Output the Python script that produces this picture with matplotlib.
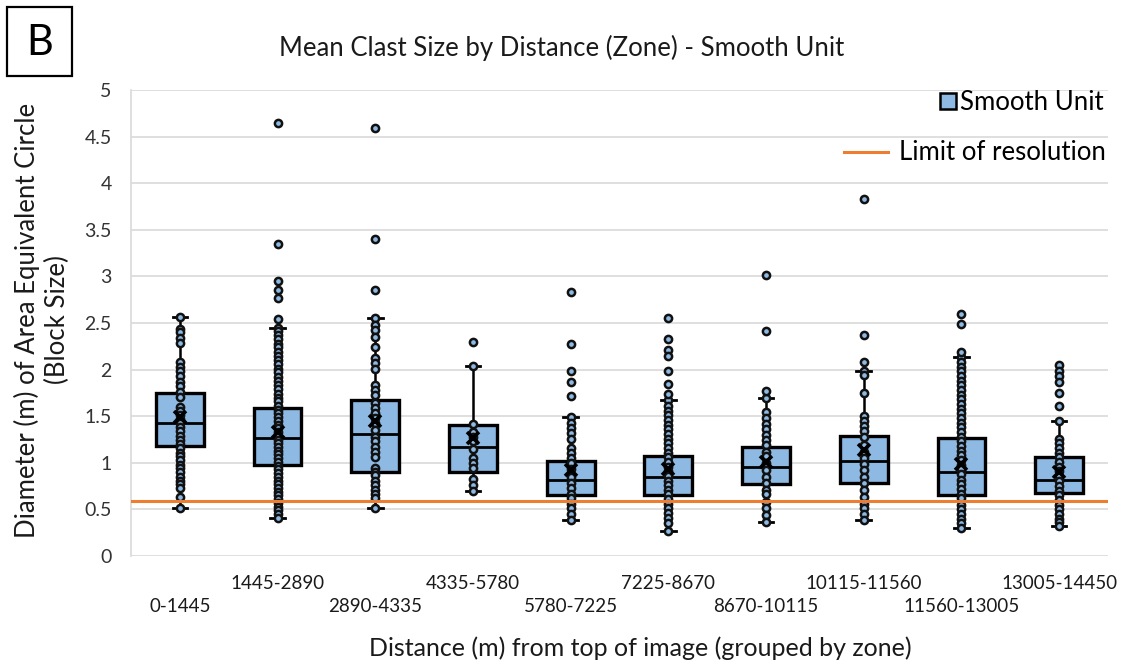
import matplotlib.pyplot as plt
import matplotlib.patches as mpatches
import matplotlib.transforms as mtransforms
from matplotlib.lines import Line2D
import numpy as np

# Zones (x categories)
zones = ['0-1445', '1445-2890', '2890-4335', '4335-5780', '5780-7225',
         '7225-8670', '8670-10115', '10115-11560', '11560-13005', '13005-14450']

# Box statistics
q1 = [1.18, 0.98, 0.90, 0.90, 0.65, 0.65, 0.77, 0.78, 0.65, 0.68]
med = [1.43, 1.27, 1.31, 1.17, 0.82, 0.85, 0.95, 1.02, 0.90, 0.82]
q3 = [1.75, 1.59, 1.67, 1.41, 1.02, 1.07, 1.17, 1.29, 1.27, 1.06]
whis_lo = [0.52, 0.41, 0.51, 0.70, 0.39, 0.27, 0.37, 0.39, 0.30, 0.32]
whis_hi = [2.56, 2.45, 2.55, 2.04, 1.49, 1.67, 1.70, 1.98, 2.13, 1.45]
means = [1.49, 1.33, 1.45, 1.27, 0.92, 0.93, 1.01, 1.14, 0.99, 0.90]

# Outliers per zone
outliers = [
    [],
    [4.65, 3.35, 2.95, 2.85, 2.77, 2.54],
    [4.59, 3.40, 2.85],
    [2.30],
    [2.83, 2.27, 1.99, 1.87, 1.72],
    [2.55, 2.33, 2.21, 2.15, 1.98, 1.85, 1.74],
    [3.01, 2.41, 1.77],
    [3.83, 2.37, 2.08],
    [2.60, 2.49, 2.19],
    [2.05, 1.99, 1.93, 1.87, 1.75, 1.61],
]

# Inner points per zone (within whiskers)
inner = [
    [2.56, 2.44, 2.40, 2.34, 2.29, 2.08, 2.03, 1.98, 1.93, 1.87, 1.82, 1.76, 1.71,
     1.60, 1.56, 1.51, 1.47, 1.43, 1.38, 1.34, 1.29, 1.25, 1.20, 1.16, 1.11,
     1.07, 1.03, 0.98, 0.94, 0.90, 0.85, 0.81, 0.77, 0.73, 0.63, 0.52],
    [2.45, 2.41, 2.37, 2.33, 2.28, 2.24, 2.19, 2.15, 2.10, 2.06, 2.01, 1.97,
     1.92, 1.88, 1.83, 1.79, 1.74, 1.70, 1.66, 1.61, 1.57, 1.53, 1.49, 1.45,
     1.41, 1.37, 1.33, 1.29, 1.25, 1.21, 1.17, 1.13, 1.09, 1.05, 1.01, 0.97,
     0.93, 0.89, 0.85, 0.81, 0.77, 0.73, 0.69, 0.65, 0.61, 0.57, 0.53, 0.49, 0.45, 0.41],
    [2.55, 2.48, 2.42, 2.35, 2.24, 2.12, 2.07, 2.01, 1.83, 1.78, 1.73, 1.64,
     1.59, 1.53, 1.48, 1.43, 1.35, 1.28, 1.23, 1.17, 1.12, 1.06, 0.94, 0.90,
     0.87, 0.80, 0.76, 0.71, 0.66, 0.62, 0.51],
    [2.04, 1.42, 1.33, 1.28, 1.23, 1.15, 1.05, 1.00, 0.94, 0.83, 0.76, 0.70],
    [1.49, 1.43, 1.37, 1.32, 1.26, 1.16, 1.11, 1.05, 1.00, 0.93, 0.85, 0.78,
     0.73, 0.67, 0.62, 0.56, 0.51, 0.45, 0.39],
    [1.67, 1.61, 1.56, 1.51, 1.46, 1.41, 1.36, 1.31, 1.26, 1.21, 1.16, 1.11,
     1.06, 1.01, 0.96, 0.91, 0.86, 0.81, 0.76, 0.71, 0.66, 0.61, 0.56, 0.51,
     0.46, 0.41, 0.35, 0.27],
    [1.70, 1.55, 1.48, 1.42, 1.36, 1.30, 1.24, 1.19, 1.12, 1.07, 1.00, 0.92,
     0.85, 0.78, 0.71, 0.66, 0.58, 0.51, 0.44, 0.37],
    [1.98, 1.94, 1.75, 1.50, 1.45, 1.40, 1.34, 1.28, 1.19, 1.12, 1.05, 0.99,
     0.92, 0.85, 0.78, 0.71, 0.63, 0.56, 0.51, 0.45, 0.39],
    [2.13, 2.08, 2.03, 1.98, 1.93, 1.88, 1.83, 1.78, 1.73, 1.68, 1.63, 1.58,
     1.53, 1.48, 1.43, 1.38, 1.33, 1.28, 1.23, 1.18, 1.13, 1.08, 1.03, 0.98,
     0.93, 0.88, 0.82, 0.77, 0.72, 0.67, 0.62, 0.55, 0.50, 0.45, 0.40, 0.35, 0.30],
    [1.45, 1.26, 1.21, 1.16, 1.11, 1.06, 1.01, 0.96, 0.91, 0.86, 0.80, 0.75,
     0.70, 0.65, 0.60, 0.55, 0.50, 0.45, 0.40, 0.36, 0.32],
]

limit_res = 0.59

box_color = '#8DB9E3'
line_orange = '#ED7D31'
grid_color = '#D9D9D9'
text_color = '#1A1A1A'
plt.rcParams['font.family'] = ['Lato', 'DejaVu Sans']

fig = plt.figure(figsize=(11.26, 6.65), dpi=100)
ax = fig.add_axes([131 / 1126, 1 - 556 / 665, 977 / 1126, 466 / 665])

pos = np.arange(1, len(zones) + 1)
stats = []
for i in range(len(zones)):
    stats.append(dict(q1=q1[i], med=med[i], q3=q3[i], whislo=whis_lo[i],
                      whishi=whis_hi[i], mean=means[i], fliers=[]))

ax.bxp(stats, positions=pos, widths=0.49, patch_artist=True, showfliers=False,
       showmeans=False, capwidths=0.15,
       boxprops=dict(facecolor=box_color, edgecolor='black', linewidth=2.4),
       medianprops=dict(color='black', linewidth=2.0),
       whiskerprops=dict(color='black', linewidth=1.8),
       capprops=dict(color='black', linewidth=2.0), zorder=2)

for i in range(len(zones)):
    pts = inner[i] + outliers[i]
    ax.plot([pos[i]] * len(pts), pts, 'o', ms=5.2, mfc=box_color, mec='#111111',
            mew=1.8, zorder=3, linestyle='none')
    ax.plot(pos[i], means[i], 'x', ms=9, mew=2.6, color='black', zorder=4)

ax.axhline(limit_res, color=line_orange, linewidth=2.2, zorder=5)

ax.set_xlim(0.5, len(zones) + 0.5)
ax.set_ylim(0, 5)
yt = np.arange(0, 5.01, 0.5)
ax.set_yticks(yt)
ax.set_yticklabels([('%g' % v) for v in yt], fontsize=14, color='#333333')
ax.yaxis.grid(True, color=grid_color, linewidth=1.2, zorder=0)
ax.set_axisbelow(True)
ax.tick_params(axis='y', length=0, pad=14)
ax.tick_params(axis='x', length=0, pad=14)
for s in ['top', 'right', 'bottom']:
    ax.spines[s].set_visible(False)
ax.spines['left'].set_color(grid_color)
ax.spines['left'].set_linewidth(1.2)

# staggered zone labels: even-index labels shifted to a second row
ax.set_xticks(pos)
ax.set_xticklabels(zones, fontsize=13.5, color=text_color)
shift = mtransforms.ScaledTranslation(0, -23 / 100, fig.dpi_scale_trans)
for i, lab in enumerate(ax.get_xticklabels()):
    if i % 2 == 0:
        lab.set_transform(lab.get_transform() + shift)

fig.text(640 / 1126, 1 - 648 / 665, 'Distance (m) from top of image (grouped by zone)',
         ha='center', va='center', fontsize=18, color=text_color)
fig.text(42 / 1126, 1 - 320 / 665, 'Diameter (m) of Area Equivalent Circle\n(Block Size)',
         rotation=90, ha='center', va='center', fontsize=18.5, color=text_color,
         multialignment='center', linespacing=1.2)
fig.text(562 / 1126, 1 - 48 / 665, 'Mean Clast Size by Distance (Zone) - Smooth Unit',
         ha='center', va='center', fontsize=18.5, color=text_color)

# panel letter
fig.add_artist(mpatches.Rectangle((7 / 1126, 1 - 76 / 665), 65 / 1126, 69 / 665,
                                  transform=fig.transFigure, fill=False,
                                  edgecolor='black', linewidth=1.6))
fig.text(40 / 1126, 1 - 43 / 665, 'B', ha='center', va='center', fontsize=30, color='black')

# legends
h1 = Line2D([], [], marker='s', ms=11, mfc=box_color, mec='black', mew=1.8, linestyle='none')
leg1 = ax.legend([h1], ['Smooth Unit'], loc='center right', frameon=False,
                 bbox_to_anchor=(1104 / 1126, 1 - 102 / 665), bbox_transform=fig.transFigure,
                 fontsize=18.5, handletextpad=0.15, handlelength=0.7, borderpad=0, borderaxespad=0)
ax.add_artist(leg1)
h2 = Line2D([], [], color=line_orange, linewidth=2.2)
ax.legend([h2], ['Limit of resolution'], loc='center right', frameon=False,
          bbox_to_anchor=(1106 / 1126, 1 - 153 / 665), bbox_transform=fig.transFigure,
          fontsize=18.5, handletextpad=0.45, handlelength=1.7, borderpad=0, borderaxespad=0)

fig.savefig('out.png', dpi=100)
